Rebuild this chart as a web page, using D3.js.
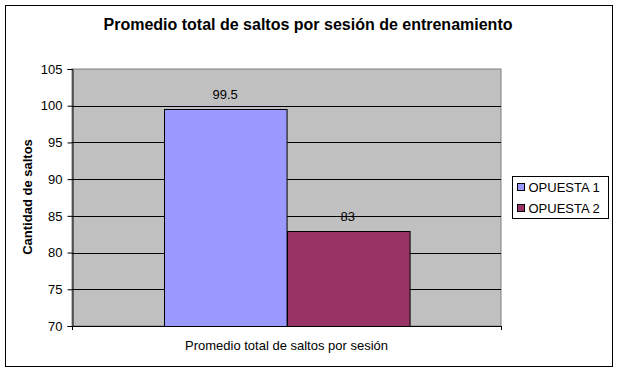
<!DOCTYPE html>
<html>
<head>
<meta charset="utf-8">
<script src="https://cdn.jsdelivr.net/npm/d3@7"></script>
<style>
  body { margin: 0; background: #fff; }
  svg { display: block; font-family: "Liberation Sans", Arial, sans-serif; }
</style>
</head>
<body>
<div id="chart"></div>
<script>
// data
const category = "Promedio total de saltos por sesión";
const seriesNames = ["OPUESTA 1", "OPUESTA 2"];
const seriesValues = [99.5, 83];
const seriesColors = ["#9999FF", "#993366"];
const yTicks = [70, 75, 80, 85, 90, 95, 100, 105];

const svgWidth = 618;
const svgHeight = 372;

// plot area (Excel-ish layout)
const plot = { left: 72, right: 501, top: 69, bottom: 326 };

const svg = d3
  .select("#chart")
  .append("svg")
  .attr("width", svgWidth)
  .attr("height", svgHeight);

// outer chart frame
svg
  .append("rect")
  .attr("x", 5.5)
  .attr("y", 5.5)
  .attr("width", 607)
  .attr("height", 361)
  .attr("fill", "#fff")
  .attr("stroke", "#000");

// Scales
const y = d3.scaleLinear().domain([70, 105]).range([plot.bottom, plot.top]);

// gap width 150% -> band padding
const x = d3
  .scaleBand()
  .domain(seriesNames)
  .range([plot.left, plot.right])
  .paddingInner(0)
  .paddingOuter(0.75);

// plot background
svg
  .append("rect")
  .attr("x", plot.left)
  .attr("y", plot.top)
  .attr("width", plot.right - plot.left)
  .attr("height", plot.bottom - plot.top)
  .attr("fill", "#C0C0C0")
  .attr("stroke", "#808080");

// gridlines
svg
  .append("g")
  .selectAll("line")
  .data(yTicks.filter((d) => d > 70 && d < 105))
  .join("line")
  .attr("x1", plot.left)
  .attr("x2", plot.right)
  .attr("y1", (d) => Math.round(y(d)) + 0.5)
  .attr("y2", (d) => Math.round(y(d)) + 0.5)
  .attr("stroke", "#000");

// bars
svg
  .append("g")
  .selectAll("rect")
  .data(seriesValues)
  .join("rect")
  .attr("x", (d, i) => Math.round(x(seriesNames[i])) + 0.5)
  .attr("y", (d) => Math.round(y(d)) + 0.5)
  .attr("width", x.bandwidth())
  .attr("height", (d) => plot.bottom - Math.round(y(d)))
  .attr("fill", (d, i) => seriesColors[i])
  .attr("stroke", "#000");

// value labels
svg
  .append("g")
  .attr("font-size", 13)
  .attr("text-anchor", "middle")
  .selectAll("text")
  .data(seriesValues)
  .join("text")
  .attr("x", (d, i) => x(seriesNames[i]) + x.bandwidth() / 2)
  .attr("y", (d) => y(d) - 10)
  .text((d) => d);

// y axis
const yAxis = d3
  .axisLeft(y)
  .tickValues(yTicks)
  .tickSize(5)
  .tickPadding(5)
  .tickFormat(d3.format("d"));

svg
  .append("g")
  .attr("transform", `translate(${plot.left + 0.5},0)`)
  .call(yAxis)
  .call((g) => g.select(".domain").attr("stroke", "#000"))
  .call((g) => g.selectAll(".tick line").attr("stroke", "#000"))
  .call((g) =>
    g
      .selectAll(".tick text")
      .attr("font-size", 13)
      .attr("font-family", "Liberation Sans, Arial, sans-serif")
      .attr("fill", "#000")
  );

// x axis (category axis: ticks at the edges)
const xAxisG = svg.append("g");
xAxisG
  .append("line")
  .attr("x1", plot.left)
  .attr("x2", plot.right)
  .attr("y1", plot.bottom + 0.5)
  .attr("y2", plot.bottom + 0.5)
  .attr("stroke", "#000");
xAxisG
  .selectAll("line.edge")
  .data([plot.left, plot.right])
  .join("line")
  .attr("class", "edge")
  .attr("x1", (d) => d + 0.5)
  .attr("x2", (d) => d + 0.5)
  .attr("y1", plot.bottom)
  .attr("y2", plot.bottom + 4)
  .attr("stroke", "#000");
xAxisG
  .append("text")
  .attr("x", (plot.left + plot.right) / 2)
  .attr("y", 350)
  .attr("text-anchor", "middle")
  .attr("font-size", 13)
  .text(category);

// title
svg
  .append("text")
  .attr("x", 308)
  .attr("y", 30)
  .attr("text-anchor", "middle")
  .attr("font-size", 16)
  .attr("font-weight", "bold")
  .text("Promedio total de saltos por sesión de entrenamiento");

// y axis title
svg
  .append("text")
  .attr("transform", "translate(32,197) rotate(-90)")
  .attr("text-anchor", "middle")
  .attr("font-size", 13)
  .attr("font-weight", "bold")
  .text("Cantidad de saltos");

// legend
const legend = svg.append("g").attr("transform", "translate(512.5,176.5)");
legend
  .append("rect")
  .attr("width", 96)
  .attr("height", 42)
  .attr("fill", "#fff")
  .attr("stroke", "#000");
const items = legend
  .selectAll("g")
  .data(seriesNames)
  .join("g")
  .attr("transform", (d, i) => `translate(5,${7 + i * 21})`);
items
  .append("rect")
  .attr("width", 7)
  .attr("height", 7)
  .attr("fill", (d, i) => seriesColors[i])
  .attr("stroke", "#000");
items
  .append("text")
  .attr("x", 11)
  .attr("y", 8.5)
  .attr("font-size", 13)
  .text((d) => d);
</script>
</body>
</html>
